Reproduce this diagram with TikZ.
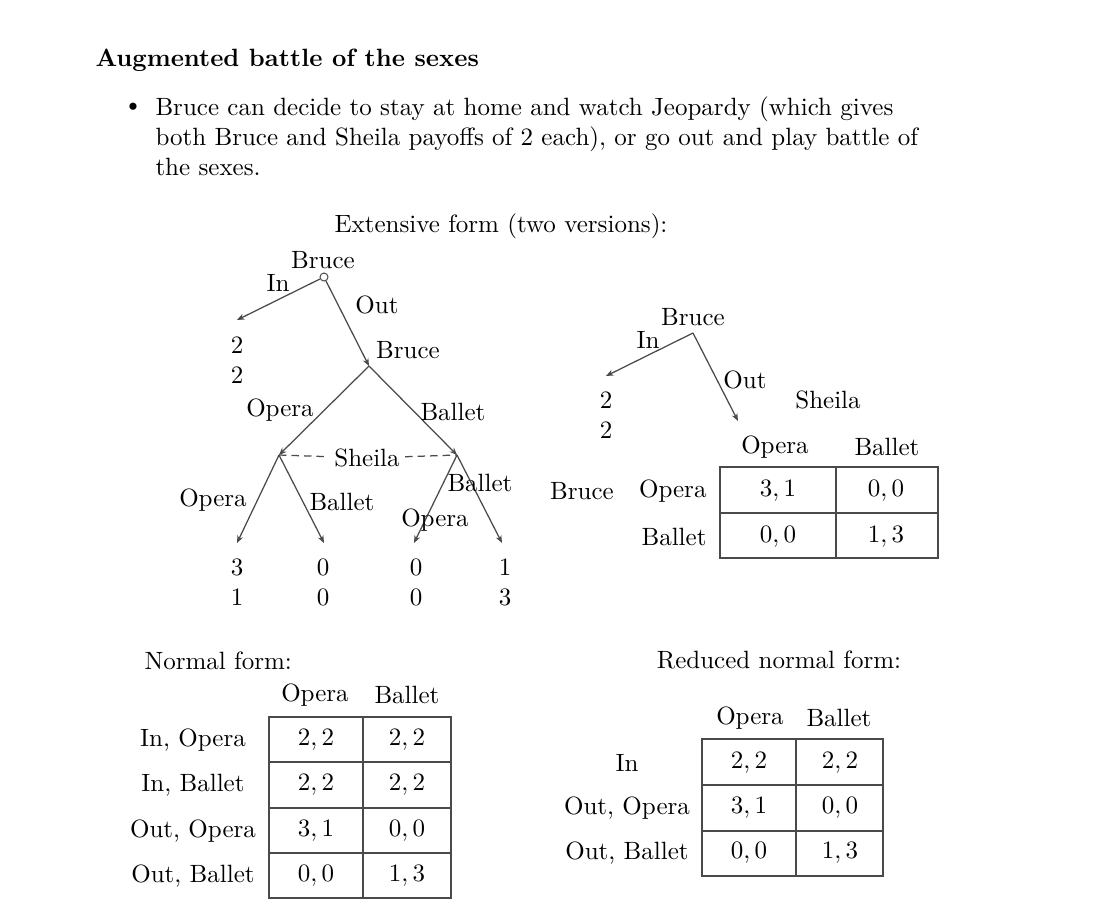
\documentclass[tikz,border=0pt]{standalone}
\usetikzlibrary{arrows.meta}
\definecolor{lineGray}{HTML}{4A4A4A}

\begin{document}
\begin{tikzpicture}[x=0.4pt,y=-0.4pt,font=\normalsize,
  edge/.style={draw=lineGray,line width=0.5pt,-{Stealth[length=3pt,width=2.4pt]}},
  infoset/.style={draw=lineGray,line width=0.5pt,dash pattern=on 3pt off 2pt},
  grid/.style={draw=lineGray,line width=0.5pt},
  pay/.style={align=center,inner sep=0pt},
  dot/.style={circle,draw=lineGray,fill=white,inner sep=0pt,minimum size=3.2pt}]
  \path[use as bounding box] (0,0) rectangle (1107,915);
  % heading and bullet
  \node[anchor=west,inner sep=0pt,font=\bfseries] (title) at (95,60) {Augmented battle of the sexes};
  \node (bul) at (133,108) {\textbullet};
  \node[anchor=north west,align=left,inner sep=0pt] (intro) at (155,96)
    {Bruce can decide to stay at home and watch Jeopardy (which gives\\
     both Bruce and Sheila payoffs of 2 each), or go out and play battle of\\
     the sexes.};
  \node (extform) at (501,226) {Extensive form (two versions):};
  % first tree
  \node (bruceA) at (323,260) {Bruce};
  \node[dot] (root) at (324,277) {};
  \coordinate (inA) at (237,320);
  \coordinate (bruceNode) at (369,366);
  \draw[edge] (root) -- (inA);
  \draw[edge] (root) -- (bruceNode);
  \node (inLblA) at (278,283) {In};
  \node (outLblA) at (377,305) {Out};
  \node (bruceB) at (408,350) {Bruce};
  \node[pay] (payIn) at (237,360) {$2$\\$2$};
  \coordinate (sheilaL) at (279,455);
  \coordinate (sheilaR) at (457,455);
  \draw[edge] (bruceNode) -- (sheilaL);
  \draw[edge] (bruceNode) -- (sheilaR);
  \node (operaA) at (280,410) {Opera};
  \node (balletA) at (453,412) {Ballet};
  \node[inner sep=2pt] (sheilaA) at (367,458) {Sheila};
  \draw[infoset] (sheilaL) -- (sheilaA);
  \draw[infoset] (sheilaA) -- (sheilaR);
  \coordinate (leafOO) at (237,543);
  \coordinate (leafOB) at (324,543);
  \coordinate (leafBO) at (414,543);
  \coordinate (leafBB) at (502,543);
  \draw[edge] (sheilaL) -- (leafOO);
  \draw[edge] (sheilaL) -- (leafOB);
  \draw[edge] (sheilaR) -- (leafBO);
  \draw[edge] (sheilaR) -- (leafBB);
  \node (operaB) at (213,500) {Opera};
  \node (balletB) at (342,502) {Ballet};
  \node (operaC) at (435,520) {Opera};
  \node (balletC) at (480,483) {Ballet};
  \node[pay] (payOO) at (237,582) {$3$\\$1$};
  \node[pay] (payOB) at (323,582) {$0$\\$0$};
  \node[pay] (payBO) at (416,582) {$0$\\$0$};
  \node[pay] (payBB) at (505,582) {$1$\\$3$};
  % second tree with the matrix
  \node (bruceC) at (693,317) {Bruce};
  \coordinate (rootB) at (693,333);
  \coordinate (inB) at (606,376);
  \coordinate (outB) at (738,421);
  \draw[edge] (rootB) -- (inB);
  \draw[edge] (rootB) -- (outB);
  \node (inLblB) at (648,340) {In};
  \node (outLblB) at (745,380) {Out};
  \node[pay] (payInB) at (606,415) {$2$\\$2$};
  \node (sheilaB) at (828,400) {Sheila};
  \node (colOpA) at (775,447) {Opera};
  \node (colBaA) at (887,447) {Ballet};
  \draw[grid] (720,467) rectangle (938,558);
  \draw[grid] (836,467) -- (836,558);
  \draw[grid] (720,513) -- (938,513);
  \node (bruceD) at (582,491) {Bruce};
  \node[anchor=east,inner sep=0pt] (rowOpA) at (707,491) {Opera};
  \node[anchor=east,inner sep=0pt] (rowBaA) at (707,537) {Ballet};
  \node (cellA1) at (778,491) {$3,1$};
  \node (cellA2) at (886,491) {$0,0$};
  \node (cellA3) at (778,537) {$0,0$};
  \node (cellA4) at (886,537) {$1,3$};
  % normal form
  \node[anchor=west,inner sep=0pt] (nfTitle) at (144,661) {Normal form:};
  \node (colOpB) at (315,695) {Opera};
  \node (colBaB) at (407,695) {Ballet};
  \draw[grid] (269,717) rectangle (451,898);
  \draw[grid] (363,717) -- (363,898);
  \foreach \yy in {762,808,853} \draw[grid] (269,\yy) -- (451,\yy);
  \foreach \yy/\lab/\pa/\pb [count=\i] in {740/{In, Opera}/{2,2}/{2,2},
      785/{In, Ballet}/{2,2}/{2,2}, 831/{Out, Opera}/{3,1}/{0,0},
      876/{Out, Ballet}/{0,0}/{1,3}} {
    \node (nfRow\i) at (193,\yy) {\lab};
    \node (nfA\i) at (316,\yy) {$\pa$};
    \node (nfB\i) at (407,\yy) {$\pb$};
  }
  % reduced normal form
  \node (rnfTitle) at (779,660) {Reduced normal form:};
  \node (colOpC) at (750,718) {Opera};
  \node (colBaC) at (839,718) {Ballet};
  \draw[grid] (702,739) rectangle (883,876);
  \draw[grid] (796,739) -- (796,876);
  \foreach \yy in {785,831} \draw[grid] (702,\yy) -- (883,\yy);
  \foreach \yy/\lab/\pa/\pb [count=\i] in {763/{In}/{2,2}/{2,2},
      808/{Out, Opera}/{3,1}/{0,0}, 853/{Out, Ballet}/{0,0}/{1,3}} {
    \node (rnfRow\i) at (627,\yy) {\lab};
    \node (rnfA\i) at (749,\yy) {$\pa$};
    \node (rnfB\i) at (840,\yy) {$\pb$};
  }
\end{tikzpicture}
\end{document}
